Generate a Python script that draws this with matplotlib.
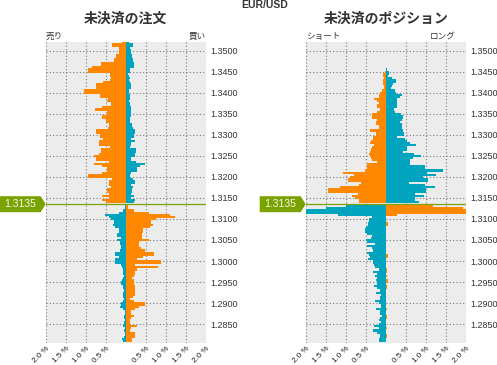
import numpy as np
import matplotlib
matplotlib.use('Agg')
import matplotlib.pyplot as plt
from matplotlib.patches import Polygon
from matplotlib.transforms import ScaledTranslation, blended_transform_factory

#-------------------------------------------------
#                DATA (values in %)
#-------------------------------------------------

current_price = 1.3135
price_step = 0.0005
prices_above = np.round(1.3520 - price_step * np.arange(77), 4)   # 1.3520 ... 1.3140
prices_below = np.round(1.3130 - price_step * np.arange(65), 4)   # 1.3130 ... 1.2810

# open orders, above current price
orders_above_sell = [.09, .35, .35, .17, .18, .18, .25, .25, .30, .30,
                     .62, .62, .85, .95, .95, .40, .40, .38, .40, .58,
                     .75, .75, .75, 1.05, 1.05, .65, .65, .44, .48, .38,
                     .38, .60, .77, .46, .46, .60, .60, .50, .50, .43,
                     .43, .45, .75, .75, .65, .65, .57, .68, .67, .67,
                     .40, .63, .63, .68, .80, .75, .75, .42, .80, .60,
                     .48, .48, .60, .95, .95, .35, .42, .42, .43, .37,
                     .48, .48, .42, .60, .43, .60, .50]
orders_above_buy = [.09, .18, .18, .10, .12, .12, .15, .15, .18, .18,
                    .20, .20, .20, .10, .10, .06, .07, .10, .08, .10,
                    .12, .12, .14, .08, .08, .10, .10, .10, .08, .10,
                    .10, .13, .12, .12, .12, .12, .10, .10, .10, .15,
                    .15, .17, .22, .22, .21, .21, .13, .22, .12, .12,
                    .10, .25, .25, .23, .23, .14, .14, .25, .48, .35,
                    .29, .29, .14, .10, .10, .17, .23, .23, .14, .17,
                    .15, .15, .13, .20, .12, .22, .20]
# open orders, below current price
orders_below_sell = [.02, .02, .08, .17, .52, .42, .37, .30, .30, .33,
                     .27, .18, .18, .22, .22, .12, .22, .15, .15, .13,
                     .12, .15, .28, .28, .17, .28, .28, .28, .12, .10,
                     .08, .08, .08, .05, .07, .10, .12, .12, .08, .07,
                     .05, .07, .07, .07, .05, .07, .13, .13, .15, .07,
                     .03, .03, .05, .05, .03, .05, .05, .07, .03, .05,
                     .03, .03, .05, .10, .08]
orders_below_buy = [.05, .05, .21, .58, 1.10, 1.23, .75, .62, .62, .68,
                    .60, .42, .42, .40, .40, .40, .58, .33, .33, .32,
                    .38, .48, .70, .70, .43, .28, .88, .88, .23, .80,
                    .28, .23, .23, .20, .15, .20, .20, .20, .22, .23,
                    .22, .23, .23, .17, .10, .20, .47, .47, .33, .23,
                    .13, .13, .20, .12, .10, .11, .11, .28, .13, .11,
                    .23, .23, .22, .15, .15]

# open positions, above current price
positions_above_short = [0, 0, 0, 0, 0, 0, 0, 0, 0, 0, 0, 0, 0,
                         0, .03, .07, .06, .04, .07, .07, .06, .04, .04,
                         .09, .14, .16, .18, .29, .21, .18, .21, .21, .14,
                         .23, .34, .34, .34,
                         .21, .24, .24, .16, .16, .39, .24, .24, .33, .31,
                         .36, .39, .29, .34, .38, .39, .42, .39, .36, .34,
                         .21, .48, .48, .48, .51, 1.07, .79, .89, .94, .94,
                         .62, .68, 1.14, 1.44, 1.44, .69, .84, .76, .66, .66]
positions_above_long = [0, 0, 0, 0, 0, 0, 0, 0, 0, 0, 0, 0, 0,
                        .03, .08, .08, .05, .16, .26, .26, .17, .16, .14,
                        .23, .26, .41, .36, .28, .28, .28, .28, .29, .20,
                        .24, .39, .43, .43,
                        .40, .36, .41, .41, .41, .43, .46, .46, .28, .49,
                        .53, .61, .76, .54, .52, .44, .71, .88, .68, .61,
                        .61, .61, .99, .99, 1.42, 1.03, 1.26, .94, 1.06, 1.06,
                        .58, .99, 1.24, 1.00, 1.00, .73, .96, .73, .73, .83]
# open positions, below current price
positions_below_short = [.99, 1.50, 2.00, 2.00, 1.20,
                         .35, .41, .43, .44, .44, .50, .53, .53, .46, .34,
                         .38, .49, .46, .28, .46, .35, .33, .48, .43, .39,
                         .44, .31, .31, .29, .26, .18, .31, .23, .28, .21,
                         .24, .23, .23, .29, .21, .15, .24, .13, .14, .14,
                         .26, .18, .13, .11, .24, .14, .14, .09, .14, .16,
                         .13, .16, .29, .16, .31, .23, .14, .14, .18, .16]
positions_below_long = [1.19, 1.94, 2.00, 2.00, .28,
                        0, 0, 0, .06, .06, 0, 0, 0, 0, 0,
                        0, 0, 0, 0, 0, 0, 0, 0, .05, .05,
                        0, 0, 0, 0, 0, .03, .03, 0, .03, 0,
                        .05, .05, 0, .03, .03, 0, 0, 0, 0, 0,
                        0, 0, 0, 0, .03, 0, 0, .04, .04, 0,
                        0, 0, 0, .04, 0, 0, .03, .03, 0, 0]

price_ticks = [1.2850, 1.2900, 1.2950, 1.3000, 1.3050, 1.3100, 1.3150, 1.3200,
               1.3250, 1.3300, 1.3350, 1.3400, 1.3450, 1.3500]
pct_ticks = [-2.0, -1.5, -1.0, -0.5, 0.5, 1.0, 1.5, 2.0]

#-------------------------------------------------
#                STYLE
#-------------------------------------------------

ORANGE = '#FF8800'
TEAL = '#00A4BE'
GREEN = '#7BA300'
BG = '#ECECEC'
TXT = '#333333'
JP = ['Noto Sans CJK JP', 'DejaVu Sans']

plt.rcParams['font.family'] = ['Liberation Sans', 'DejaVu Sans']

fig = plt.figure(figsize=(4.97, 3.65), dpi=100)
fig.patch.set_facecolor('white')

W, H = 497.0, 365.0
ax_l = fig.add_axes([45.7 / W, 22.3 / H, 160 / W, 301 / H])
ax_r = fig.add_axes([305.7 / W, 22.3 / H, 160 / W, 301 / H])


def draw_panel(ax, above_left, above_right, below_left, below_right,
               title, left_lbl, right_lbl, right_lbl_x):
    ax.set_facecolor(BG)
    kw = dict(height=price_step, linewidth=0, antialiased=False)
    ax.barh(prices_above, -np.array(above_left), color=ORANGE, **kw)
    ax.barh(prices_above, above_right, color=TEAL, **kw)
    ax.barh(prices_below, -np.array(below_left), color=TEAL, **kw)
    ax.barh(prices_below, below_right, color=ORANGE, **kw)

    ax.set_xlim(-2.0, 2.0)
    ax.set_ylim(1.2806, 1.3521)
    ax.set_axisbelow(True)
    ax.grid(True, color='#7a7a7a', linestyle=(0, (1, 2)), linewidth=0.8)
    for s in ax.spines.values():
        s.set_visible(False)

    ax.yaxis.tick_right()
    ax.set_yticks(price_ticks)
    ax.set_yticklabels(['%.4f' % p for p in price_ticks])
    ax.set_xticks(pct_ticks)
    ax.set_xticklabels(['%.1f %%' % abs(v) for v in pct_ticks])
    ax.tick_params(length=0, labelsize=6.5, colors=TXT)
    ax.tick_params(axis='y', pad=3.5)
    ax.tick_params(axis='x', pad=1.5, labelsize=5.8, colors='#222222')
    for lab in ax.get_xticklabels():
        lab.set_rotation(45)
        lab.set_ha('right')
        lab.set_rotation_mode('anchor')

    ax.axhline(current_price, color=GREEN, linewidth=0.9)

    # price tag on the left of the panel
    anchor = blended_transform_factory(ax.transAxes, ax.transData)
    tr = fig.dpi_scale_trans + ScaledTranslation(0, current_price, anchor)
    tag = np.array([(-46, -8), (-5, -8), (0, 0), (-5, 8), (-46, 8)]) / 100.0
    ax.add_patch(Polygon(tag, closed=True, transform=tr, facecolor=GREEN,
                         edgecolor='none', clip_on=False))
    ax.annotate('%.4f' % current_price, xy=(0, current_price), xycoords=anchor,
                xytext=(-26, 0), textcoords='offset pixels', ha='center',
                va='center', fontsize=7.5, color='#F6F6EC', annotation_clip=False)

    ax.text(0.5, 1.077, title, transform=ax.transAxes, ha='center', va='center',
            fontsize=10, fontweight='bold', color=TXT, family=JP)
    ax.text(0.0, 1.018, left_lbl, transform=ax.transAxes, ha='left', va='center',
            fontsize=6.2, color=TXT, family=JP)
    ax.text(right_lbl_x, 1.018, right_lbl, transform=ax.transAxes, ha='right',
            va='center', fontsize=6.2, color=TXT, family=JP)


draw_panel(ax_l, orders_above_sell, orders_above_buy, orders_below_sell,
           orders_below_buy, '未決済の注文', '売り', '買い', 1.0)
draw_panel(ax_r, positions_above_short, positions_above_long,
           positions_below_short, positions_below_long,
           '未決済のポジション', 'ショート', 'ロング', 0.94)

fig.text(264.5 / W, 1 - 5.5 / H, 'EUR/USD', ha='center', va='center',
         fontsize=7.5, fontweight='bold', color=TXT)

plt.savefig('out.png', dpi=100)
